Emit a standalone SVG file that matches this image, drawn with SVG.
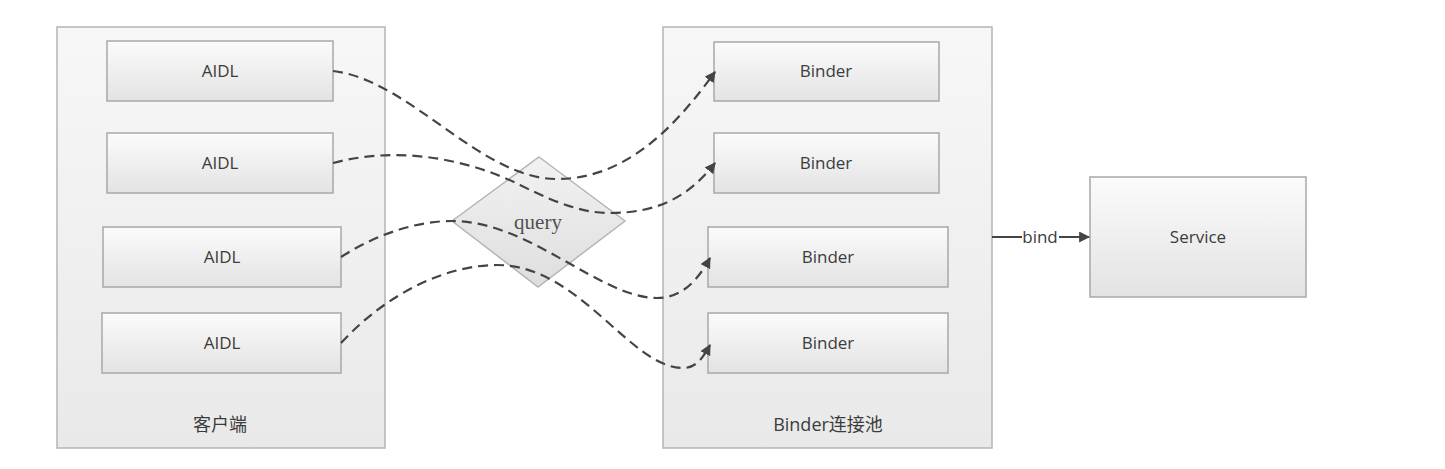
<svg xmlns="http://www.w3.org/2000/svg" width="1445" height="469" viewBox="0 0 1445 469">
<defs>
<linearGradient id="gCont" x1="0" y1="0" x2="0" y2="1">
<stop offset="0" stop-color="#f7f7f7"/><stop offset="1" stop-color="#e9e9e9"/>
</linearGradient>
<linearGradient id="gBox" x1="0" y1="0" x2="0" y2="1">
<stop offset="0" stop-color="#fbfbfb"/><stop offset="1" stop-color="#e3e3e3"/>
</linearGradient>
<linearGradient id="gDia" x1="0" y1="0" x2="0" y2="1">
<stop offset="0" stop-color="#f2f2f2"/><stop offset="1" stop-color="#dedede"/>
</linearGradient>
<marker id="arr" viewBox="0 0 10 10" refX="9" refY="5" markerWidth="11" markerHeight="11" markerUnits="userSpaceOnUse" orient="auto">
<path d="M0,0 L10,5 L0,10 z" fill="#444"/>
</marker>
</defs>
<style>
.cont{fill:url(#gCont);stroke:#b5b5b5;stroke-width:1.5}
.box{fill:url(#gBox);stroke:#a8a8a8;stroke-width:1.5}
.lbl{font-family:"Open Sans","Liberation Sans",sans-serif;font-size:17px;fill:#3c3c3c;text-anchor:middle}
.cjk{font-family:"Open Sans","Noto Sans CJK SC",sans-serif;font-size:18px;fill:#3c3c3c;text-anchor:middle}
.dash{fill:none;stroke:#444;stroke-width:2.2;stroke-dasharray:10 6;marker-end:url(#arr)}
</style>
<rect width="1445" height="469" fill="#ffffff"/>

<g id="client">
<rect class="cont" x="57" y="27" width="328" height="421"/>
<text class="cjk" x="220" y="431">客户端</text>
</g>
<g id="aidl1"><rect class="box" x="107" y="41" width="226" height="60"/><text class="lbl" x="220" y="77">AIDL</text></g>
<g id="aidl2"><rect class="box" x="107" y="133" width="226" height="60"/><text class="lbl" x="220" y="169">AIDL</text></g>
<g id="aidl3"><rect class="box" x="103" y="227" width="238" height="60"/><text class="lbl" x="222" y="263">AIDL</text></g>
<g id="aidl4"><rect class="box" x="102" y="313" width="239" height="60"/><text class="lbl" x="222" y="349">AIDL</text></g>

<g id="pool">
<rect class="cont" x="663" y="27" width="329" height="421"/>
<text class="cjk" x="828" y="431">Binder连接池</text>
</g>
<g id="binder1"><rect class="box" x="714" y="42" width="225" height="59"/><text class="lbl" x="826" y="77">Binder</text></g>
<g id="binder2"><rect class="box" x="714" y="133" width="225" height="60"/><text class="lbl" x="826" y="169">Binder</text></g>
<g id="binder3"><rect class="box" x="708" y="227" width="240" height="60"/><text class="lbl" x="828" y="263">Binder</text></g>
<g id="binder4"><rect class="box" x="708" y="313" width="240" height="60"/><text class="lbl" x="828" y="349">Binder</text></g>

<g id="query">
<polygon points="539,157 625,221 538,287 452,221" fill="url(#gDia)" stroke="#b5b5b5" stroke-width="1.5"/>
<text x="538" y="229" font-family="'Liberation Serif','Times New Roman',serif" font-size="21" fill="#505050" text-anchor="middle">query</text>
</g>

<g id="service">
<rect class="box" x="1090" y="177" width="216" height="120"/>
<text class="lbl" x="1198" y="243" font-size="18">Service</text>
</g>

<g id="connectors">
<path class="dash" d="M333,71 C410,80 480,179 557,179 C630,179 680,120 715,72"/>
<path class="dash" d="M333,163 C400,145 470,160 520,185 C560,205 585,213 610,213 C660,213 690,195 715,163"/>
<path class="dash" d="M341,257 C380,232 420,221 452,221 C530,221 600,298 657,298 C682,298 698,280 710,258"/>
<path class="dash" d="M341,343 C390,290 450,265 497,265 C580,265 630,368 683,368 C696,368 703,358 710,345"/>
<line x1="992" y1="237" x2="1022" y2="237" stroke="#444" stroke-width="2"/>
<text class="lbl" x="1040" y="243" font-size="17">bind</text>
<line x1="1059" y1="237" x2="1089" y2="237" stroke="#444" stroke-width="2" marker-end="url(#arr)"/>
</g>
</svg>
